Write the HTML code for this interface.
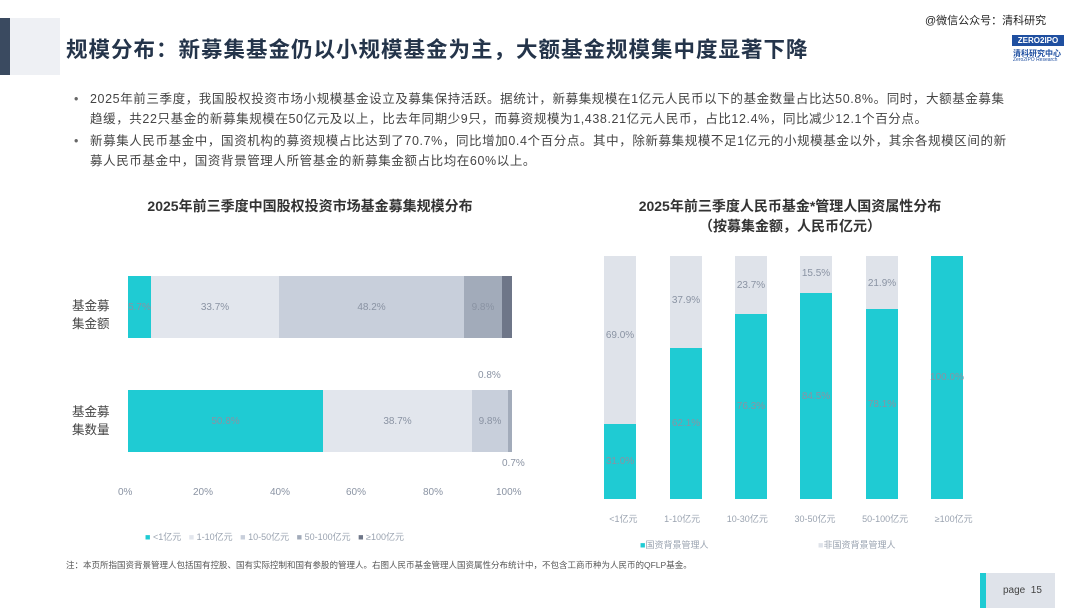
<!DOCTYPE html>
<html><head><meta charset="utf-8"><style>
*{margin:0;padding:0;box-sizing:border-box}
body{width:1080px;height:608px;background:#fff;position:relative;overflow:hidden;font-family:"Liberation Sans","Noto Sans CJK SC",sans-serif;color:#444}
.a{position:absolute}
.seg{position:absolute;font-size:10px;color:#8a93a3;display:flex;align-items:center;justify-content:center;white-space:nowrap}
.bl{position:absolute;font-size:12.5px;color:#444;line-height:20px;left:90px;width:922px;letter-spacing:0.6px}
.bl:before{content:"•";position:absolute;left:-16px;color:#666}
</style></head><body>
<div class="a" style="left:0;top:18px;width:60px;height:57px;background:#eef0f4"></div>
<div class="a" style="left:0;top:18px;width:10px;height:57px;background:#3a4a60"></div>
<div class="a" style="left:66px;top:33px;font-size:21.5px;font-weight:bold;color:#24344a;letter-spacing:1px">规模分布：新募集基金仍以小规模基金为主，大额基金规模集中度显著下降</div>
<div class="a" style="left:925px;top:12px;font-size:11px;color:#222">@微信公众号：清科研究</div>
<div class="a" style="left:1012px;top:35px;width:52px;height:11px;background:#1f4fa0;color:#fff;font-size:8px;font-weight:bold;text-align:center;line-height:11px">ZERO2IPO</div>
<div class="a" style="left:1013px;top:48px;font-size:8px;color:#1f4fa0;font-weight:bold">清科研究中心</div>
<div class="a" style="left:1013px;top:57px;font-size:5px;color:#1f4fa0">Zero2IPO Research</div>

<div class="bl" style="top:89px">2025年前三季度，我国股权投资市场小规模基金设立及募集保持活跃。据统计，新募集规模在1亿元人民币以下的基金数量占比达50.8%。同时，大额基金募集趋缓，共22只基金的新募集规模在50亿元及以上，比去年同期少9只，而募资规模为1,438.21亿元人民币，占比12.4%，同比减少12.1个百分点。</div>
<div class="bl" style="top:131px">新募集人民币基金中，国资机构的募资规模占比达到了70.7%，同比增加0.4个百分点。其中，除新募集规模不足1亿元的小规模基金以外，其余各规模区间的新募人民币基金中，国资背景管理人所管基金的新募集金额占比均在60%以上。</div>

<div class="a" style="left:90px;top:196px;width:440px;text-align:center;font-size:14px;font-weight:bold;color:#333">2025年前三季度中国股权投资市场基金募集规模分布</div>
<div class="a" style="left:580px;top:196px;width:420px;text-align:center;font-size:14px;font-weight:bold;color:#333;line-height:20px">2025年前三季度人民币基金*管理人国资属性分布<br>（按募集金额，人民币亿元）</div>

<div class="a" style="left:72px;top:297px;font-size:12.5px;color:#444;line-height:18px">基金募<br>集金额</div>
<div class="a" style="left:72px;top:403px;font-size:12.5px;color:#444;line-height:18px">基金募<br>集数量</div>

<div class="seg" style="left:128px;top:276px;width:23px;height:62px;background:#1fcbd3">5.7%</div>
<div class="seg" style="left:151px;top:276px;width:128px;height:62px;background:#e2e6ed">33.7%</div>
<div class="seg" style="left:279px;top:276px;width:185px;height:62px;background:#c8cfdb">48.2%</div>
<div class="seg" style="left:464px;top:276px;width:38px;height:62px;background:#a2abba">9.8%</div>
<div class="seg" style="left:502px;top:276px;width:10px;height:62px;background:#6e7688"></div>

<div class="seg" style="left:128px;top:390px;width:195px;height:62px;background:#1fcbd3">50.8%</div>
<div class="seg" style="left:323px;top:390px;width:149px;height:62px;background:#e2e6ed">38.7%</div>
<div class="seg" style="left:472px;top:390px;width:36px;height:62px;background:#c8cfdb">9.8%</div>
<div class="seg" style="left:508px;top:390px;width:4px;height:62px;background:#a2abba"></div>
<div class="seg" style="left:478px;top:370px">0.8%</div>
<div class="seg" style="left:502px;top:458px">0.7%</div>

<div class="seg" style="left:118px;top:487px">0%</div>
<div class="seg" style="left:193px;top:487px">20%</div>
<div class="seg" style="left:270px;top:487px">40%</div>
<div class="seg" style="left:346px;top:487px">60%</div>
<div class="seg" style="left:423px;top:487px">80%</div>
<div class="seg" style="left:496px;top:487px">100%</div>

<div class="a" style="left:145px;top:530px;font-size:9px;color:#9aa3b0;white-space:nowrap"><span style="color:#1fcbd3">■</span> &lt;1亿元 &nbsp;&nbsp;<span style="color:#e2e6ed">■</span> 1-10亿元 &nbsp;&nbsp;<span style="color:#c8cfdb">■</span> 10-50亿元 &nbsp;&nbsp;<span style="color:#a2abba">■</span> 50-100亿元 &nbsp;&nbsp;<span style="color:#6e7688">■</span> ≥100亿元</div>

<div class="a" style="left:604px;top:256px;width:32px;height:243px;background:#dfe3ea"></div>
<div class="seg" style="left:604px;top:424px;width:32px;height:75px;background:#1fcbd3">31.0%</div>
<div class="seg" style="left:604px;top:330px;width:32px">69.0%</div>
<div class="a" style="left:670px;top:256px;width:32px;height:243px;background:#dfe3ea"></div>
<div class="seg" style="left:670px;top:348px;width:32px;height:151px;background:#1fcbd3">62.1%</div>
<div class="seg" style="left:670px;top:295px;width:32px">37.9%</div>
<div class="a" style="left:735px;top:256px;width:32px;height:243px;background:#dfe3ea"></div>
<div class="seg" style="left:735px;top:314px;width:32px;height:185px;background:#1fcbd3">76.3%</div>
<div class="seg" style="left:735px;top:280px;width:32px">23.7%</div>
<div class="a" style="left:800px;top:256px;width:32px;height:243px;background:#dfe3ea"></div>
<div class="seg" style="left:800px;top:293px;width:32px;height:206px;background:#1fcbd3">84.5%</div>
<div class="seg" style="left:800px;top:268px;width:32px">15.5%</div>
<div class="a" style="left:866px;top:256px;width:32px;height:243px;background:#dfe3ea"></div>
<div class="seg" style="left:866px;top:309px;width:32px;height:190px;background:#1fcbd3">78.1%</div>
<div class="seg" style="left:866px;top:278px;width:32px">21.9%</div>
<div class="seg" style="left:931px;top:256px;width:32px;height:243px;background:#1fcbd3">100.0%</div>

<div class="a" style="left:596px;top:512px;width:390px;font-size:9px;color:#9aa3b0;display:flex;justify-content:space-around;white-space:nowrap"><span>&lt;1亿元</span><span>1-10亿元</span><span>10-30亿元</span><span>30-50亿元</span><span>50-100亿元</span><span>≥100亿元</span></div>
<div class="a" style="left:640px;top:538px;font-size:9px;color:#9aa3b0"><span style="color:#1fcbd3">■</span>国资背景管理人</div>
<div class="a" style="left:818px;top:538px;font-size:9px;color:#9aa3b0"><span style="color:#dfe3ea">■</span>非国资背景管理人</div>

<div class="a" style="left:66px;top:559px;font-size:8.5px;color:#555;white-space:nowrap">注：本页所指国资背景管理人包括国有控股、国有实际控制和国有参股的管理人。右图人民币基金管理人国资属性分布统计中，不包含工商币种为人民币的QFLP基金。</div>

<div class="a" style="left:980px;top:573px;width:75px;height:35px;background:#dfe3ea"></div>
<div class="a" style="left:980px;top:573px;width:6px;height:35px;background:#1fcbd3"></div>
<div class="a" style="left:1003px;top:585px;font-size:10px;color:#444">page &nbsp;15</div>
</body></html>
